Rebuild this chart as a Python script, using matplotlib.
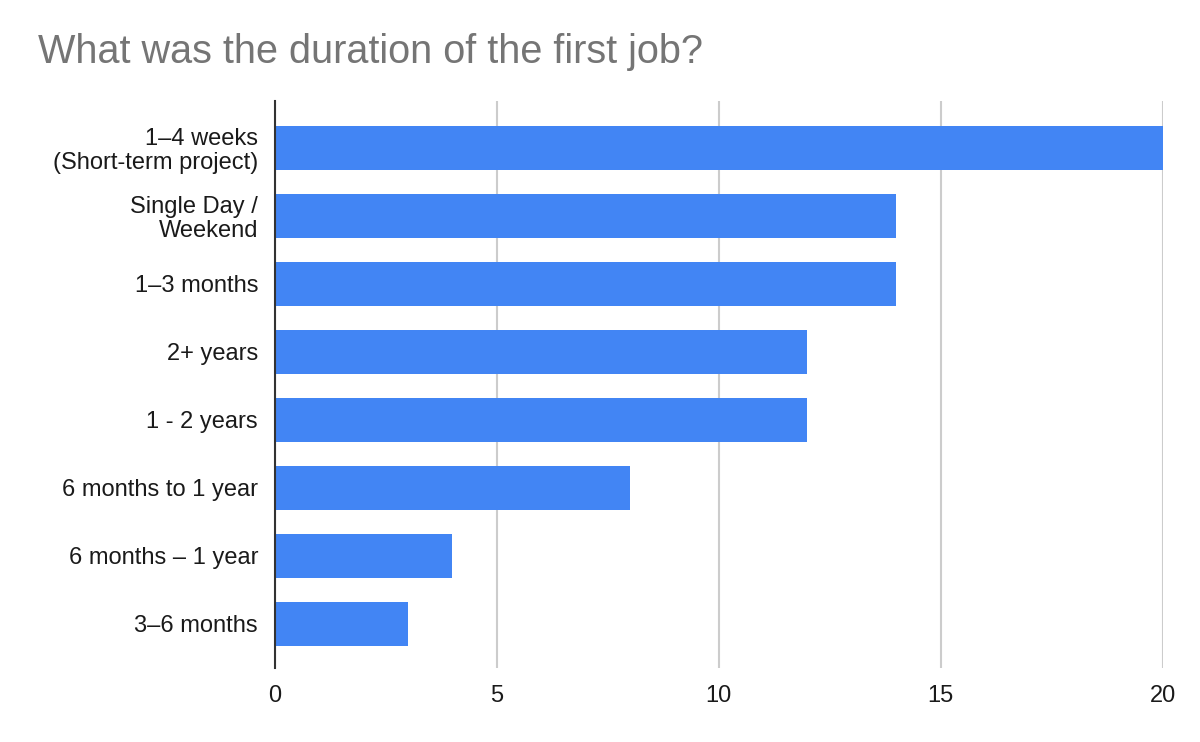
import matplotlib.pyplot as plt

plt.rcParams['font.family'] = ['Liberation Sans', 'DejaVu Sans']

categories = ['1–4 weeks\n(Short-term project)', 'Single Day /\nWeekend', '1–3 months',
              '2+ years', '1 - 2 years', '6 months to 1 year', '6 months – 1 year',
              '3–6 months']
counts = [20, 14, 14, 12, 12, 8, 4, 3]
xticks = [0, 5, 10, 15, 20]

fig = plt.figure(figsize=(12, 7.42), dpi=100)
ax = fig.add_axes([0.2289, 0.0997, 0.74, 0.7642])

pos = list(range(len(categories)))
ax.barh(pos, counts, height=0.647, color='#4285F4', zorder=3)

ax.set_yticks(pos)
ax.set_yticklabels(categories, fontsize=17, color='#1a1a1a', linespacing=1.1)
ax.set_ylim(7.65, -0.69)

ax.set_xlim(0, 20)
ax.set_xticks(xticks)
ax.set_xticklabels([str(t) for t in xticks], fontsize=17, color='#1a1a1a')
ax.tick_params(axis='both', length=0)
ax.tick_params(axis='y', pad=12)
ax.tick_params(axis='x', pad=12)

ax.grid(axis='x', color='#cccccc', linewidth=1.5, zorder=0)
for s in ['top', 'right', 'bottom']:
    ax.spines[s].set_visible(False)
ax.spines['left'].set_color('#333333')
ax.spines['left'].set_linewidth(1.5)
ax.spines['left'].set_zorder(4)

fig.text(38 / 1200, 1 - 52 / 742, 'What was the duration of the first job?',
         fontsize=28.5, color='#757575', va='center', ha='left')

fig.savefig('out.png', dpi=100)
